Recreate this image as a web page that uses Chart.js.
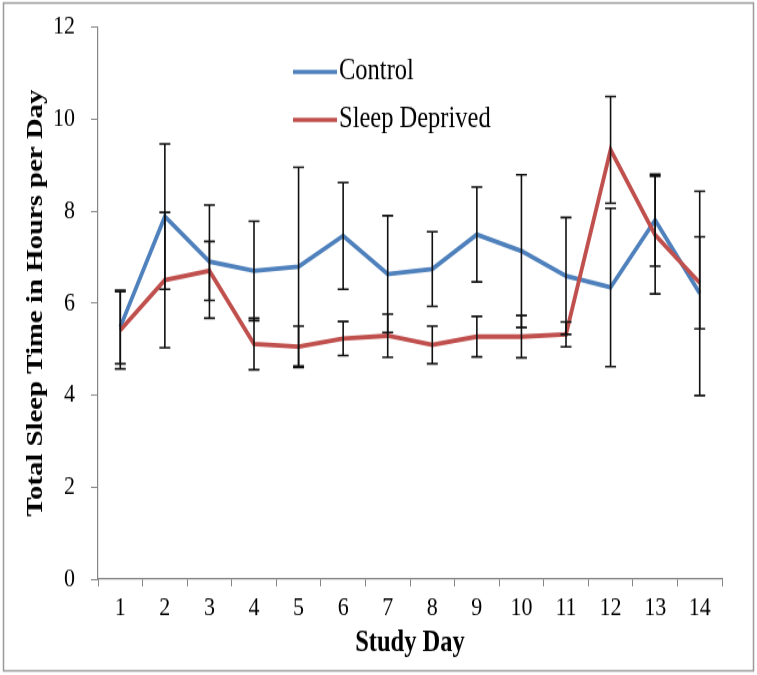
<!DOCTYPE html>
<html>
<head>
<meta charset="utf-8">
<script src="https://cdn.jsdelivr.net/npm/chart.js@4"></script>
<style>
  html, body { margin: 0; padding: 0; background: #fff; overflow: hidden; }
  /* the original picture is stretched vertically, so the canvas is too */
  #wrap { width: 757px; height: 675px; }
  #sleepChart { display: block; transform-origin: 0 0; transform: scaleY(1.19893); }
</style>
</head>
<body>
<div id="wrap"><canvas id="sleepChart" width="757" height="563"></canvas></div>
<script>
const days = ['1', '2', '3', '4', '5', '6', '7', '8', '9', '10', '11', '12', '13', '14'];
const controlHours = [5.48, 7.88, 6.90, 6.70, 6.79, 7.46, 6.63, 6.74, 7.49, 7.13, 6.59, 6.34, 7.80, 6.21];
const controlErr = [0.80, 1.58, 1.23, 1.08, 2.16, 1.16, 1.27, 0.81, 1.03, 1.66, 1.27, 1.72, 1.00, 2.22];
const deprivedHours = [5.41, 6.50, 6.70, 5.11, 5.05, 5.23, 5.29, 5.09, 5.27, 5.27, 5.32, 9.33, 7.48, 6.44];
const deprivedErr = [0.84, 1.47, 0.64, 0.56, 0.45, 0.37, 0.47, 0.41, 0.44, 0.46, 0.27, 1.16, 1.28, 1.00];
const yTicks = [0, 2, 4, 6, 8, 10, 12];

const serif = "'Liberation Serif', 'Times New Roman', serif";
const axisGray = '#868686';

// frame around the whole picture
const framePlugin = {
    id: 'frame',
    beforeDraw(chart) {
        const ctx = chart.ctx;
        ctx.save();
        ctx.fillStyle = '#fff';
        ctx.fillRect(0, 0, chart.width, chart.height);
        ctx.strokeStyle = '#9a9a9a';
        ctx.lineWidth = 1.5;
        ctx.strokeRect(3.5, 2.5, chart.width - 7, chart.height - 6);
        ctx.restore();
    }
};

// error bars drawn on top of the lines
const errorBarPlugin = {
    id: 'errorBars',
    afterDatasetsDraw(chart) {
        const ctx = chart.ctx;
        const yScale = chart.scales.y;
        ctx.save();
        ctx.strokeStyle = '#111';
        ctx.lineWidth = 1.6;
        chart.data.datasets.forEach((ds, i) => {
            const meta = chart.getDatasetMeta(i);
            meta.data.forEach((pt, j) => {
                const v = ds.data[j];
                const e = ds.errors[j];
                const top = yScale.getPixelForValue(v + e);
                const bot = yScale.getPixelForValue(v - e);
                ctx.beginPath();
                ctx.moveTo(pt.x, top);
                ctx.lineTo(pt.x, bot);
                ctx.moveTo(pt.x - 5.5, top);
                ctx.lineTo(pt.x + 5.5, top);
                ctx.moveTo(pt.x - 5.5, bot);
                ctx.lineTo(pt.x + 5.5, bot);
                ctx.stroke();
            });
        });
        ctx.restore();
    }
};

// legend sits inside the plot, like the original
const innerLegendPlugin = {
    id: 'innerLegend',
    afterDraw(chart) {
        const ctx = chart.ctx;
        const rows = [chart.data.datasets[0], chart.data.datasets[1]];
        ctx.save();
        ctx.font = '24.5px ' + serif;
        ctx.textBaseline = 'middle';
        ctx.fillStyle = '#000';
        rows.forEach((ds, i) => {
            const y = 60 + i * 40;
            ctx.strokeStyle = ds.borderColor;
            ctx.lineWidth = 3.6;
            ctx.beginPath();
            ctx.moveTo(293, y);
            ctx.lineTo(337, y);
            ctx.stroke();
            ctx.fillText(ds.label, 339, y);
        });
        ctx.restore();
    }
};

new Chart(document.getElementById('sleepChart'), {
    type: 'line',
    data: {
        labels: days,
        datasets: [
            {
                label: 'Control',
                data: controlHours,
                errors: controlErr,
                borderColor: '#4F81BD',
                borderWidth: 3.8,
                pointRadius: 0,
                tension: 0,
                order: 1
            },
            {
                label: 'Sleep Deprived',
                data: deprivedHours,
                errors: deprivedErr,
                borderColor: '#C0504D',
                borderWidth: 3.8,
                pointRadius: 0,
                tension: 0,
                order: 0
            }
        ]
    },
    options: {
        responsive: false,
        animation: false,
        devicePixelRatio: 1,
        layout: { padding: { top: 22.5, right: 35, left: 0, bottom: 0 } },
        plugins: {
            legend: { display: false },
            tooltip: { enabled: false }
        },
        scales: {
            x: {
                type: 'category',
                offset: true,
                grid: { offset: true, drawOnChartArea: false, tickLength: 6, color: axisGray },
                border: { color: axisGray, width: 1.2 },
                ticks: { color: '#000', padding: 5.5, font: { family: serif, size: 22 }, maxRotation: 0 },
                title: {
                    display: true,
                    text: 'Study Day',
                    color: '#000',
                    font: { family: serif, size: 24.5, weight: 'bold' },
                    padding: { top: 0, bottom: 11.5 }
                },
                afterFit: (s) => { s.height = 80; s.paddingLeft = 0; s.paddingRight = 0; }
            },
            y: {
                min: 0,
                max: 12,
                afterBuildTicks: (s) => { s.ticks = yTicks.map(v => ({ value: v })); },
                grid: { drawOnChartArea: false, tickLength: 7, color: axisGray },
                border: { color: axisGray, width: 1.2 },
                ticks: { color: '#000', padding: 16, font: { family: serif, size: 22 } },
                title: {
                    display: true,
                    text: 'Total Sleep Time in Hours per Day',
                    color: '#000',
                    font: { family: serif, size: 24, weight: 'bold' },
                    padding: { top: 21, bottom: 0 }
                },
                afterFit: (s) => { s.width = 98; s.paddingTop = 0; s.paddingBottom = 0; }
            }
        }
    },
    plugins: [framePlugin, errorBarPlugin, innerLegendPlugin]
});
</script>
</body>
</html>
